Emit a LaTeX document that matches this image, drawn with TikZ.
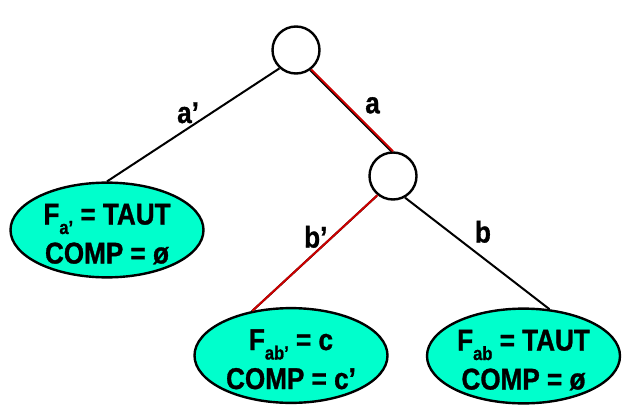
\documentclass[tikz,border=0pt]{standalone}
\usepackage{fontspec}
\setmainfont{Liberation Sans}[FakeStretch=0.87,FakeBold=1]
\usetikzlibrary{positioning,shapes.geometric}

\definecolor{leafcyan}{RGB}{0,255,204}
\definecolor{pathred}{RGB}{204,0,0}
\newcommand\subidx[1]{\raisebox{-9.5pt}{\fontsize{19}{19}\selectfont #1}}

\begin{document}
\begin{tikzpicture}[x=1pt,y=1pt,on grid,
    every node/.style={font=\fontsize{30}{39}\selectfont\bfseries},
    split/.style={circle,draw,line width=2.4pt,minimum size=47pt,inner sep=0pt},
    leaf/.style={ellipse,draw,fill=leafcyan,line width=2.4pt,minimum width=193pt,minimum height=93pt,
      inner sep=0pt,align=center,text height=67pt,text depth=-5pt},
    blackline/.style={draw=black,line width=2pt},
    redline/.style={draw=pathred,line width=2pt,
      preaction={draw=black,line width=2pt,transform canvas={shift={(-0.8pt,-0.8pt)}}}},
    edgelabel/.style={inner sep=4pt}]
    \useasboundingbox (0,0) rectangle (639,-417);

    \node[split] (root) at (296,-50) {};
    \node[split] (mid) [below right=126pt and 97pt of root] {};
    \node[leaf] (fa) [below left=180pt and 189pt of root] {F\subidx{a’} = TAUT\\COMP = ø};
    \node[leaf] (fabn) [below left=179.5pt and 102pt of mid] {F\subidx{ab’} = c\\COMP = c’};
    \node[leaf] (fab) [below right=180pt and 130.5pt of mid] {F\subidx{ab} = TAUT\\COMP = ø};

    \path
    (root.-132) edge[blackline] node[edgelabel,pos=0.53,above] {a’} (fa.north)
    (root.-52) edge[redline] node[edgelabel,pos=0.6,above right] {a} (mid.north)
    (mid.-129) edge[redline] node[edgelabel,pos=0.36,left] {b’} (fabn.131)
    (mid.-61) edge[blackline] node[edgelabel,pos=0.45,above right] {b} (fab.61)
    ;
  \end{tikzpicture}
\end{document}
